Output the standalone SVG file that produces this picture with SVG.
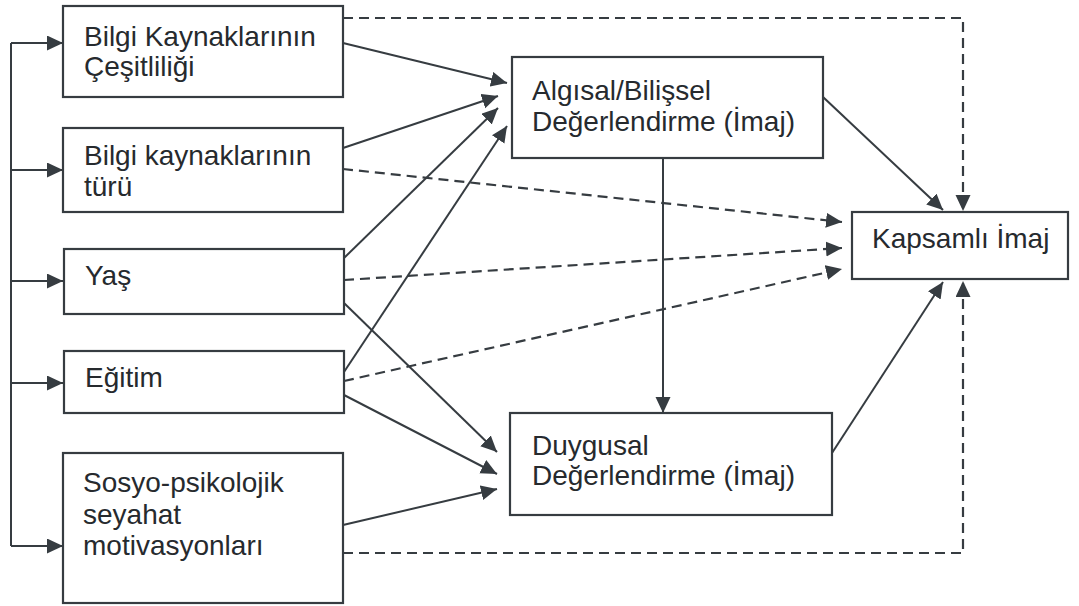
<svg xmlns="http://www.w3.org/2000/svg" width="1079" height="606" viewBox="0 0 1079 606">
<defs>
<style>
.box{fill:#fff;stroke:#363c41;stroke-width:2.2}
.t{font-family:"Liberation Sans",Arial,sans-serif;font-size:28px;fill:#262a2e}
.c{fill:none;stroke:#363c41;stroke-width:2}
.d{fill:none;stroke:#363c41;stroke-width:2.2;stroke-dasharray:10 6}
</style>
<marker id="ah" markerUnits="userSpaceOnUse" markerWidth="18" markerHeight="16" refX="16" refY="7.5" orient="auto">
<path d="M0,0 L16,7.5 L0,15 z" fill="#363c41"/>
</marker>
</defs>
<rect width="1079" height="606" fill="#fff"/>
<g id="connectors">
<path class="c" d="M11,43 V546"/>
<path class="c" d="M11,43 H63" marker-end="url(#ah)"/>
<path class="c" d="M11,170 H63" marker-end="url(#ah)"/>
<path class="c" d="M11,281 H63" marker-end="url(#ah)"/>
<path class="c" d="M11,383 H63" marker-end="url(#ah)"/>
<path class="c" d="M11,546 H63" marker-end="url(#ah)"/>
<path class="c" d="M343,43 L507,83" marker-end="url(#ah)"/>
<path class="c" d="M343,148 L498,96" marker-end="url(#ah)"/>
<path class="c" d="M344,258 L498,108" marker-end="url(#ah)"/>
<path class="c" d="M344,372 L507,126" marker-end="url(#ah)"/>
<path class="c" d="M344,303 L497,452" marker-end="url(#ah)"/>
<path class="c" d="M344,395 L497,474" marker-end="url(#ah)"/>
<path class="c" d="M343,525 L497,489" marker-end="url(#ah)"/>
<path class="c" d="M663,158 V413" marker-end="url(#ah)"/>
<path class="c" d="M823,97 L943,210" marker-end="url(#ah)"/>
<path class="c" d="M832,453 L943,282" marker-end="url(#ah)"/>
<path class="d" d="M343,169 L842,222" marker-end="url(#ah)"/>
<path class="d" d="M344,280 L842,248" marker-end="url(#ah)"/>
<path class="d" d="M344,381 L842,269" marker-end="url(#ah)"/>
<path class="d" d="M343,18 H963 V211" marker-end="url(#ah)"/>
<path class="d" d="M343,553 H963 V281" marker-end="url(#ah)"/>
</g>
<g id="n1"><rect class="box" x="63" y="6" width="280" height="91"/><text class="t" x="84" y="46">Bilgi Kaynaklarının</text><text class="t" x="84" y="76">Çeşitliliği</text></g>
<g id="n2"><rect class="box" x="63" y="128" width="280" height="84"/><text class="t" x="84" y="165">Bilgi kaynaklarının</text><text class="t" x="84" y="196">türü</text></g>
<g id="n3"><rect class="box" x="64" y="249" width="280" height="65"/><text class="t" x="85" y="285">Yaş</text></g>
<g id="n4"><rect class="box" x="64" y="351" width="280" height="62"/><text class="t" x="85" y="387">Eğitim</text></g>
<g id="n5"><rect class="box" x="63" y="453" width="280" height="150"/><text class="t" x="83" y="492">Sosyo-psikolojik</text><text class="t" x="83" y="524">seyahat</text><text class="t" x="83" y="555">motivasyonları</text></g>
<g id="n6"><rect class="box" x="512" y="57" width="311" height="101"/><text class="t" x="532" y="100">Algısal/Bilişsel</text><text class="t" x="532" y="131">Değerlendirme (İmaj)</text></g>
<g id="n7"><rect class="box" x="510" y="413" width="322" height="102"/><text class="t" x="532" y="455">Duygusal</text><text class="t" x="532" y="485">Değerlendirme (İmaj)</text></g>
<g id="n8"><rect class="box" x="852" y="212" width="216" height="67"/><text class="t" x="872" y="248">Kapsamlı İmaj</text></g>
</svg>
